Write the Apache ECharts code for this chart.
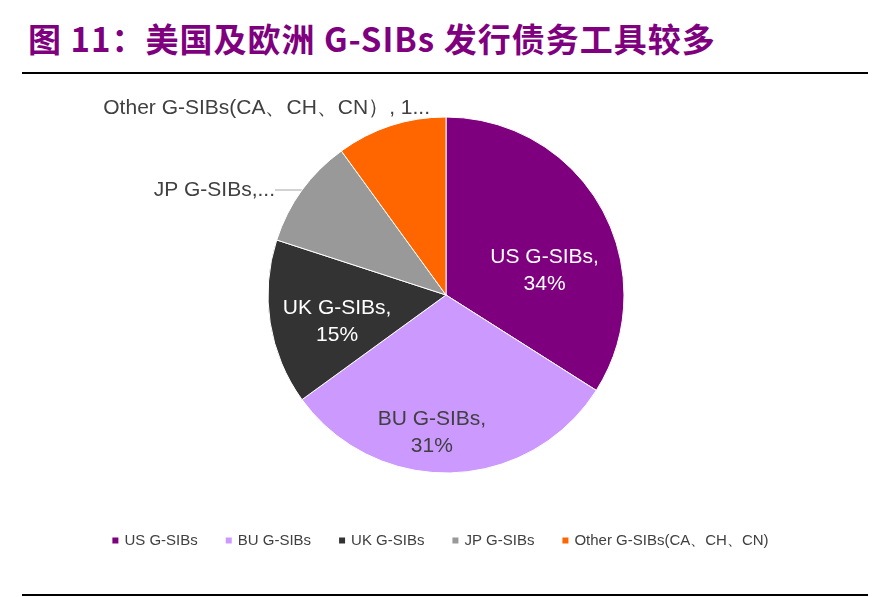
<!DOCTYPE html><html><head><meta charset="utf-8"><script src="https://cdn.jsdelivr.net/npm/echarts@6/dist/echarts.min.js"></script>
<style>body{margin:0;background:#fff}#t{position:absolute;left:28px;top:14px;font:bold 33px "Noto Sans CJK SC";color:#7f007f;letter-spacing:1px}
.l{position:absolute;left:22px;width:846px;height:2px;background:#000}</style></head><body>
<div id="t">图 11：美国及欧洲 G-SIBs 发行债务工具较多</div>
<div class="l" style="top:72px"></div><div class="l" style="top:594px"></div>
<div id="c" style="position:absolute;left:0;top:0;width:879px;height:597px"></div>
<script>
const categories=['US G-SIBs','BU G-SIBs','UK G-SIBs','JP G-SIBs','Other G-SIBs(CA、CH、CN)'];
const values=[34,31,15,10,10];
const labels=['US G-SIBs,\n34%','BU G-SIBs,\n31%','UK G-SIBs,\n15%','JP G-SIBs,...','Other G-SIBs(CA、CH、CN）, 10%'];
const colors=['#7f007f','#cc99ff','#333333','#999999','#ff6600'];
const shifts=[[18,20],[-17,46],[-18,12]];
const ch=echarts.init(document.getElementById('c'));
ch.setOption({animation:false,
legend:{bottom:44,left:'center',itemWidth:8,itemHeight:8,itemGap:26,icon:'rect',textStyle:{fontFamily:'Arial',fontSize:15,color:'#404040'}},
series:[{type:'pie',center:[446,295],radius:178,startAngle:90,clockwise:true,
data:categories.map((n,i)=>({name:n,value:values[i],itemStyle:{color:colors[i]},
 label:i<3?{show:true,position:'inside',formatter:labels[i],color:i==1?'#404040':'#fff',fontSize:21,lineHeight:27,fontFamily:'Arial'}:
 {show:true,position:'outside',formatter:labels[i],color:'#404040',fontSize:21,fontFamily:'Arial'},
 labelLine:{show:i==3,lineStyle:{color:'#a6a6a6'},length:30,length2:30}})),
labelLayout:p=>p.dataIndex==4?{x:430,y:108,align:'right',verticalAlign:'middle'}:p.dataIndex==3?{x:275,y:190,align:'right',verticalAlign:'middle'}:{dx:shifts[p.dataIndex][0],dy:shifts[p.dataIndex][1]},
itemStyle:{borderColor:'#fff',borderWidth:1}}]});
</script></body></html>
